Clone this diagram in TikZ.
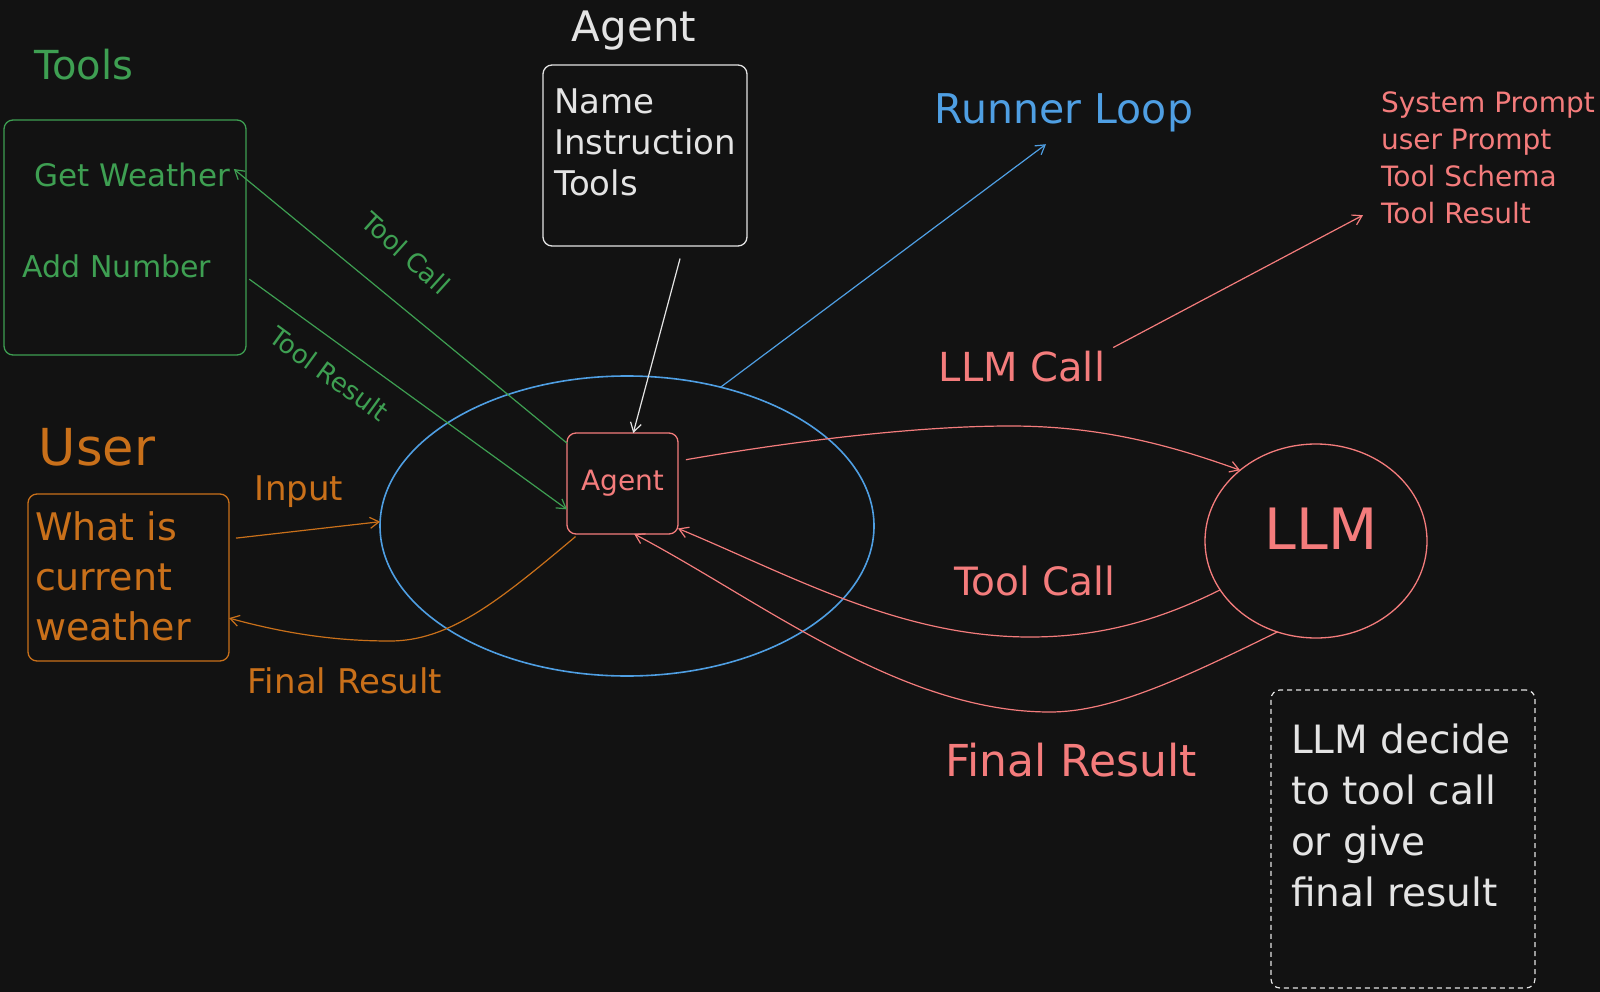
\documentclass[tikz,border=0pt]{standalone}
\usepackage{fontspec}
\setmainfont{DejaVu Sans}
\usetikzlibrary{arrows.meta,shapes.geometric}
\definecolor{bg}{HTML}{121212}
\definecolor{cgreen}{HTML}{3E9F52}
\definecolor{corange}{HTML}{C9701A}
\definecolor{cblue}{HTML}{4F9FE3}
\definecolor{cred}{HTML}{F47C7C}
\definecolor{cwhite}{HTML}{E4E4E4}
\begin{document}
\begin{tikzpicture}[x=1pt,y=-1pt,
  every node/.style={inner sep=0pt,outer sep=0pt},
  gtxt/.style={text=cgreen},
  otxt/.style={text=corange},
  btxt/.style={text=cblue},
  rtxt/.style={text=cred},
  wtxt/.style={text=cwhite},
  box/.style={draw,rounded corners=9pt,line width=1.3pt},
  conn/.style={line width=1.2pt,-{Straight Barb[length=9pt,width=11pt]}}
]
\fill[bg] (0,0) rectangle (1600,992);
\useasboundingbox (0,0) rectangle (1600,992);

% Tools
\node[gtxt,font=\fontsize{40}{48}\selectfont] (toolstitle) at (84,65) {Tools};
\node[box,draw=cgreen,minimum width=242pt,minimum height=235pt] (toolsbox) at (125,237.5) {};
\node[gtxt,font=\fontsize{31}{37}\selectfont] (getweather) at (132,175) {Get Weather};
\node[gtxt,font=\fontsize{30}{36}\selectfont] (addnumber) at (117,266) {Add Number};

% Agent definition
\node[wtxt,font=\fontsize{42}{50}\selectfont] (agenttitle) at (634,31) {Agent};
\node[box,draw=cwhite,minimum width=204pt,minimum height=181pt] (infobox) at (645,155.5) {};
\node[wtxt,align=left,anchor=north west,font=\fontsize{34}{41}\selectfont] (infotext) at (554,89) {Name\\Instruction\\Tools};

% Runner loop
\node[ellipse,draw=cblue,line width=1.6pt,minimum width=494pt,minimum height=300pt] (loop) at (627,526) {};
\node[box,draw=cred,rtxt,minimum width=111pt,minimum height=101pt,font=\fontsize{28}{34}\selectfont] (agentbox) at (622.5,483.5) {Agent};
\node[btxt,font=\fontsize{41}{49}\selectfont] (runner) at (1064,113) {Runner Loop};

% LLM side
\node[rtxt,align=left,anchor=north west,font=\fontsize{28}{37}\selectfont] (prompts) at (1381,92) {System Prompt\\user Prompt\\Tool Schema\\Tool Result};
\node[rtxt,font=\fontsize{40}{48}\selectfont] (llmcall) at (1022,367) {LLM Call};
\node[ellipse,draw=cred,line width=1.3pt,minimum width=222pt,minimum height=194pt] (llm) at (1316,541) {};
\node[rtxt,font=\fontsize{57}{68}\selectfont] (llmtext) at (1321,529) {LLM};
\node[rtxt,font=\fontsize{39}{47}\selectfont] (toolcallr) at (1035,581) {Tool Call};
\node[rtxt,font=\fontsize{44}{53}\selectfont] (finalr) at (1071,760) {Final Result};
\node[box,draw=cwhite,dash pattern=on 5pt off 4pt,line width=1.2pt,minimum width=264pt,minimum height=298pt] (notebox) at (1403,839) {};
\node[wtxt,align=left,anchor=north west,font=\fontsize{39}{51}\selectfont] (notetext) at (1291,724) {LLM decide\\to tool call\\or give\\final result};

% User
\node[otxt,font=\fontsize{51}{61}\selectfont] (usertitle) at (97,447) {User};
\node[box,draw=corange,minimum width=201pt,minimum height=167pt] (userbox) at (128.5,577.5) {};
\node[otxt,align=left,anchor=north west,font=\fontsize{38}{50}\selectfont] (usertext) at (35,512) {What is\\current\\weather};
\node[otxt,font=\fontsize{34}{41}\selectfont] (input) at (299,492) {Input};
\node[otxt,font=\fontsize{34}{41}\selectfont] (finalo) at (345,681) {Final Result};

% green labels
\node[gtxt,rotate=-42,font=\fontsize{26}{31}\selectfont] (toolcallg) at (406,253) {Tool Call};
\node[gtxt,rotate=-36,font=\fontsize{26}{31}\selectfont] (toolresultg) at (329,374) {Tool Result};

% connectors
\draw[conn,cwhite,shorten <=13pt] (infobox.-67) -- (agentbox.78);
\draw[conn,cblue] (loop.56) -- ([xshift=-18pt,yshift=-12pt]runner.south);
\draw[conn,cred] ([xshift=8pt,yshift=4pt]llmcall.north east) -- ([xshift=-18pt,yshift=9pt]prompts.south west);
\draw[conn,cred,shorten <=8pt] (agentbox.22) .. controls (800,440) and (920,426) .. (1010,426) .. controls (1100,426) and (1170,445) .. (llm.137);
\draw[conn,cred] (llm.207) .. controls (1150,625) and (1090,637) .. (1030,637) .. controls (900,637) and (790,575) .. (agentbox.-39);
\draw[conn,cred] (llm.247) .. controls (1180,680) and (1110,712) .. (1050,712) .. controls (900,712) and (760,600) .. (agentbox.-77);
\draw[conn,corange,shorten <=4pt] (agentbox.229) .. controls (500,600) and (450,641) .. (390,641) .. controls (330,641) and (280,632) .. (userbox.-22);
\draw[conn,corange,shorten <=7pt] (userbox.21) -- (loop.179);
\draw[conn,cgreen] (agentbox.144) -- ([xshift=4pt,yshift=6pt]getweather.east);
\draw[conn,cgreen,shorten <=4pt] (toolsbox.-18) -- (agentbox.205);
\end{tikzpicture}
\end{document}
